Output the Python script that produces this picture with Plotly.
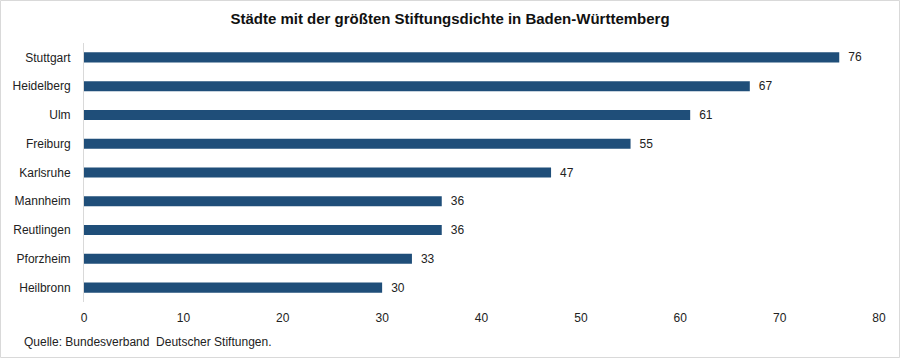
import plotly.graph_objects as go

cities = ["Stuttgart", "Heidelberg", "Ulm", "Freiburg", "Karlsruhe", "Mannheim", "Reutlingen", "Pforzheim", "Heilbronn"]
values = [76, 67, 61, 55, 47, 36, 36, 33, 30]
tick_vals = [0, 10, 20, 30, 40, 50, 60, 70, 80]

W, H = 900, 358
ML, MR, MT, MB = 84, 21, 43, 56
PW, PH = W - ML - MR, H - MT - MB

fig = go.Figure(go.Bar(
    x=values, y=cities, orientation="h",
    marker=dict(color="#1f4e79", line=dict(color="#1f4e79", width=0)),
    text=["\u2002" + str(v) for v in values], textposition="outside", constraintext="none",
    textfont=dict(family="Liberation Sans, Arial", size=12, color="#222222"),
    cliponaxis=False, width=0.35,
))

fig.update_layout(
    width=W, height=H,
    margin=dict(l=ML, r=MR, t=MT, b=MB, autoexpand=False),
    paper_bgcolor="white", plot_bgcolor="white",
    font=dict(family="Liberation Sans, Arial", size=12, color="#222222"),
    title=dict(text="<b>Städte mit der größten Stiftungsdichte in Baden-Württemberg</b>",
               x=0.5, xanchor="center", y=1 - 19 / H, yanchor="middle",
               font=dict(size=15, color="#111111")),
    xaxis=dict(range=[0, 80], tickvals=tick_vals, showgrid=False, zeroline=False,
               showline=False, ticks="", ticklabelstandoff=7, automargin=False),
    yaxis=dict(categoryorder="array", categoryarray=cities[::-1],
               showgrid=False, zeroline=False, showline=True, linecolor="#d9d9d9",
               linewidth=1, ticks="", ticklabelstandoff=10, automargin=False),
    showlegend=False,
    bargap=0.65,
    shapes=[dict(type="rect", xref="paper", yref="paper",
                 x0=-(ML - 0.5) / PW, x1=1 + (MR - 0.5) / PW,
                 y0=-(MB - 0.5) / PH, y1=1 + (MT - 0.5) / PH,
                 line=dict(color="#d9d9d9", width=1), fillcolor="rgba(0,0,0,0)", layer="below")],
    annotations=[dict(text="Quelle: Bundesverband  Deutscher Stiftungen.", xref="paper", yref="paper",
                      x=-(ML - 22) / PW, y=-(342 - MT - PH) / PH, xanchor="left", yanchor="middle",
                      showarrow=False, font=dict(size=12, color="#222222"))],
)

fig.write_html("out.html", config={"displayModeBar": False},
               post_script="document.body.style.margin='0';document.body.style.padding='0';")
